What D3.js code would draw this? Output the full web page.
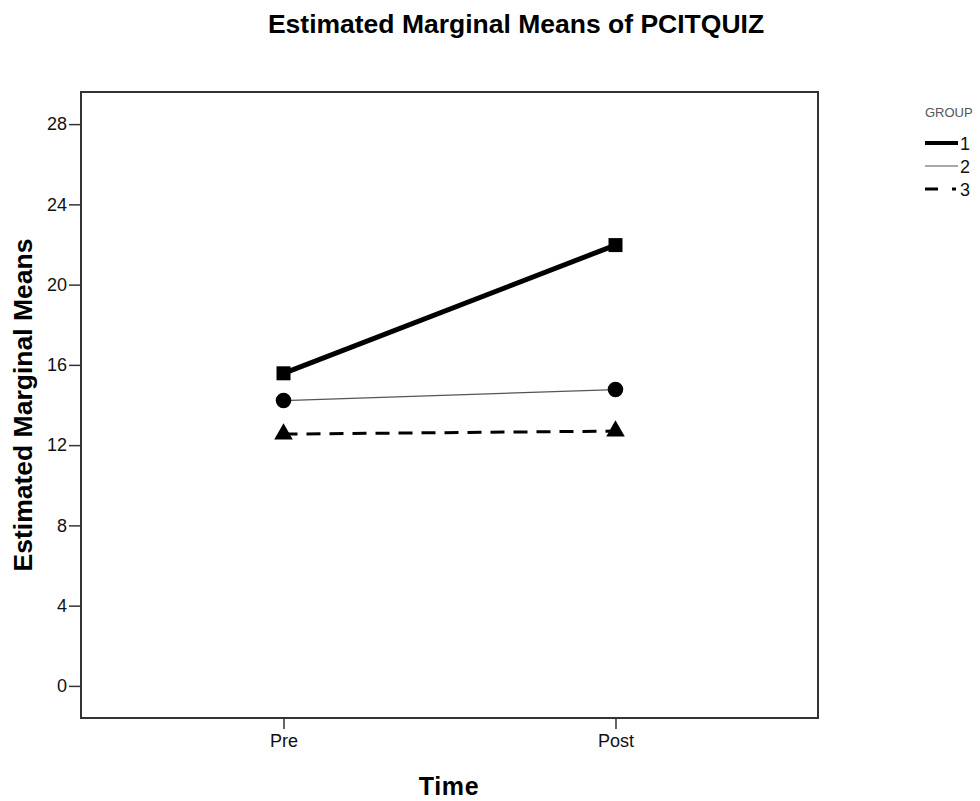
<!DOCTYPE html>
<html>
<head>
<meta charset="utf-8">
<script src="https://cdn.jsdelivr.net/npm/d3@7"></script>
<style>
  body { margin: 0; background: #fff; }
  svg { font-family: "Liberation Sans", Arial, sans-serif; }
</style>
</head>
<body>
<svg id="chart" width="980" height="801"></svg>
<script>
// data
const times = ["Pre", "Post"];
const groups = ["1", "2", "3"];
const group1 = [15.58, 21.97];
const group2 = [14.22, 14.77];
const group3 = [12.55, 12.7];
const yTicks = [0, 4, 8, 12, 16, 20, 24, 28];

const series = [
  {name: "1", values: group1, width: 5, color: "#000", dash: null, marker: "square"},
  {name: "2", values: group2, width: 1.2, color: "#555", dash: null, marker: "circle"},
  {name: "3", values: group3, width: 3, color: "#000", dash: "14,9", marker: "triangle"}
];

const width = 980, height = 801;
const margin = ({top: 92, right: 162, bottom: 83, left: 81});

const svg = d3.select("#chart");

const x = d3.scalePoint(times, [margin.left, width - margin.right]).padding(0.61);
const y = d3.scaleLinear([-1.6, 29.6], [height - margin.bottom, margin.top]);

// frame
svg.append("rect")
    .attr("x", margin.left)
    .attr("y", margin.top)
    .attr("width", width - margin.right - margin.left)
    .attr("height", height - margin.bottom - margin.top)
    .attr("fill", "none")
    .attr("stroke", "#333")
    .attr("stroke-width", 2);

const xAxis = g => g
    .attr("transform", `translate(0,${height - margin.bottom})`)
    .call(d3.axisBottom(x).tickSize(11).tickPadding(5))
    .call(g => g.select(".domain").remove())
    .call(g => g.selectAll("line").attr("stroke", "#333").attr("stroke-width", 1.5))
    .call(g => g.selectAll("text").attr("font-size", 18).attr("fill", "#111"));

const yAxis = g => g
    .attr("transform", `translate(${margin.left},0)`)
    .call(d3.axisLeft(y).tickValues(yTicks).tickSize(12).tickPadding(2))
    .call(g => g.select(".domain").remove())
    .call(g => g.selectAll("line").attr("stroke", "#333").attr("stroke-width", 1.5))
    .call(g => g.selectAll("text").attr("font-size", 18).attr("fill", "#111"));

svg.append("g").call(xAxis);
svg.append("g").call(yAxis);

// titles
svg.append("text")
    .attr("x", 516)
    .attr("y", 33)
    .attr("text-anchor", "middle")
    .attr("font-size", 26.5)
    .attr("font-weight", "bold")
    .text("Estimated Marginal Means of PCITQUIZ");

svg.append("text")
    .attr("transform", "translate(32,405) rotate(-90)")
    .attr("text-anchor", "middle")
    .attr("font-size", 26.5)
    .attr("font-weight", "bold")
    .text("Estimated Marginal Means");

svg.append("text")
    .attr("x", 449)
    .attr("y", 795)
    .attr("text-anchor", "middle")
    .attr("font-size", 25)
    .attr("font-weight", "bold")
    .attr("letter-spacing", 0.6)
    .text("Time");

// lines
const line = d3.line()
    .x((d, i) => x(times[i]))
    .y(d => y(d));

svg.append("g")
  .selectAll("path")
  .data(series)
  .join("path")
    .attr("d", d => line(d.values))
    .attr("fill", "none")
    .attr("stroke", d => d.color)
    .attr("stroke-width", d => d.width)
    .attr("stroke-dasharray", d => d.dash);

// markers
const symbolType = {square: d3.symbolSquare, circle: d3.symbolCircle, triangle: d3.symbolTriangle};
const symbolSize = {square: 196, circle: 190, triangle: 150};

series.forEach(s => {
  svg.append("g")
    .selectAll("path")
    .data(s.values)
    .join("path")
      .attr("transform", (d, i) => `translate(${x(times[i])},${y(d)})`)
      .attr("d", d3.symbol(symbolType[s.marker], symbolSize[s.marker]))
      .attr("fill", "#000");
});

// legend
const legend = svg.append("g").attr("transform", "translate(925,0)");

legend.append("text")
    .attr("x", 0)
    .attr("y", 117)
    .attr("font-size", 13)
    .attr("fill", "#555")
    .text("GROUP");

const legendY = d3.scalePoint(groups, [143, 189]);

const item = legend.selectAll("g.item")
  .data(series)
  .join("g")
    .attr("class", "item")
    .attr("transform", d => `translate(0,${legendY(d.name)})`);

item.append("line")
    .attr("x1", 0)
    .attr("x2", d => d.dash ? 31 : 33)
    .attr("stroke", d => d.color)
    .attr("stroke-width", d => d.width === 5 ? 4 : d.width)
    .attr("stroke-dasharray", d => d.dash ? "13,14,4,10" : null);

item.append("text")
    .attr("x", 35)
    .attr("y", 7)
    .attr("font-size", 18)
    .attr("fill", "#111")
    .text(d => d.name);
</script>
</body>
</html>
